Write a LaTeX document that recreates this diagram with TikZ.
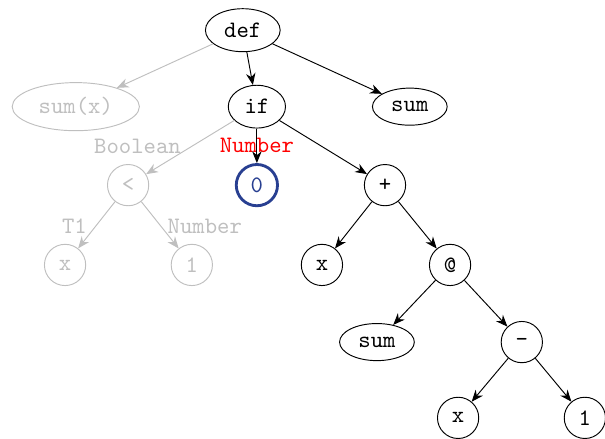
\documentclass[tikz,border=0pt]{standalone}
\usepackage{xcolor}
\usetikzlibrary{arrows.meta,shapes.geometric}
\definecolor{nodeblue}{RGB}{40,63,145}

\begin{document}
\begin{tikzpicture}[
  font=\ttfamily,
  op/.style={draw, circle, minimum size=17.5pt, inner sep=1pt},
  nm/.style={draw, ellipse},
  dead/.style={draw=gray!50, text=gray!50},
  lbl/.style={text=gray!50, label distance=1pt},
  edge/.style={-{Stealth[length=5pt,width=4pt]}},
  deadedge/.style={edge, draw=gray!50}]
\useasboundingbox (0,0) rectangle (9.02,-6.54);

% root
\node[nm] (def) at (3.62,-0.45) {def};

% level 1
\node[nm, dead] (sumx) at (1.13,-1.59) {sum(x)};
\node[nm] (if) at (3.83,-1.59) {if};
\node[nm] (sum) at (6.11,-1.59) {sum};

% level 2
\node[op, dead, label={[lbl, xshift=4pt]above:Boolean}] (lt) at (1.91,-2.76) {<};
\node[op, draw=nodeblue, very thick, text=nodeblue,
      label={[red, label distance=1pt]above:Number}] (zero) at (3.83,-2.76) {0};
\node[op] (plus) at (5.74,-2.76) {+};

% level 3
\node[op, dead, label={[lbl, xshift=4pt]above:T1}] (xa) at (0.97,-3.95) {x};
\node[op, dead, label={[lbl, xshift=5.5pt]above:Number}] (onea) at (2.86,-3.95) {1};
\node[op] (xb) at (4.80,-3.95) {x};
\node[op] (app) at (6.71,-3.95) {@};

% level 4
\node[nm] (sumb) at (5.62,-5.10) {sum};
\node[op] (minus) at (7.78,-5.10) {-};

% level 5
\node[op] (xc) at (6.83,-6.23) {x};
\node[op] (oneb) at (8.72,-6.23) {1};

% edges
\draw[deadedge] (def) -- (sumx);
\draw[edge] (def) -- (if);
\draw[edge] (def) -- (sum);
\draw[deadedge] (if) -- (lt);
\draw[edge] (if) -- (zero);
\draw[edge] (if) -- (plus);
\draw[deadedge] (lt) -- (xa);
\draw[deadedge] (lt) -- (onea);
\draw[edge] (plus) -- (xb);
\draw[edge] (plus) -- (app);
\draw[edge] (app) -- (sumb);
\draw[edge] (app) -- (minus);
\draw[edge] (minus) -- (xc);
\draw[edge] (minus) -- (oneb);
\end{tikzpicture}
\end{document}
